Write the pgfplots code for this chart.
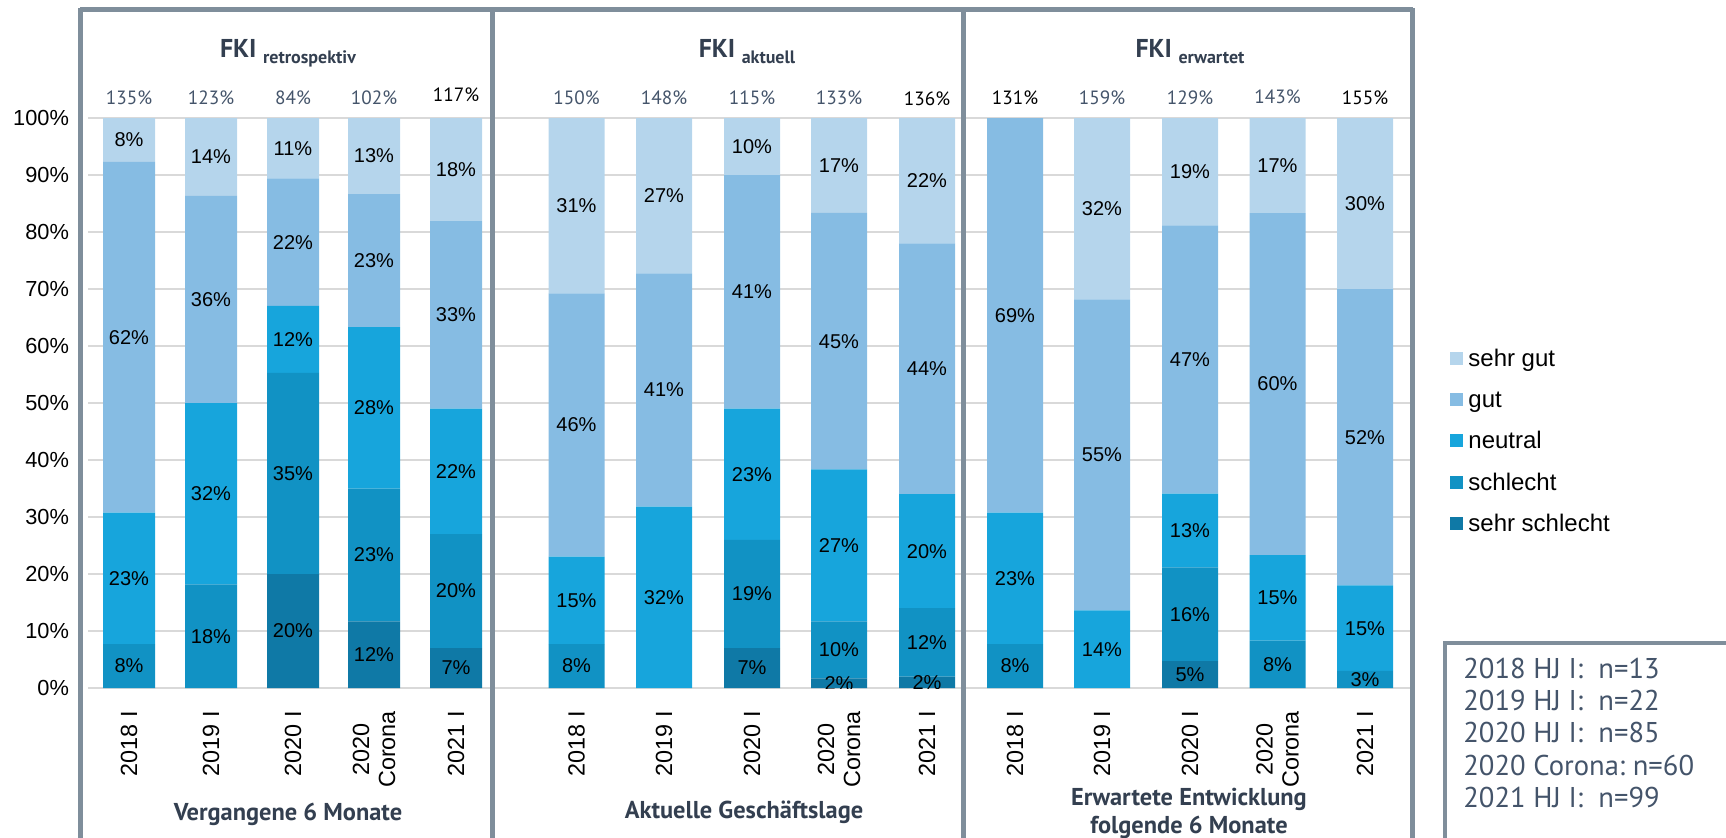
\documentclass[border=0pt]{standalone}
\usepackage{pgfplots}
\pgfplotsset{compat=1.18}
\usepackage{pgfplotstable}
\usepackage{fontspec}
\setmainfont{Liberation Sans}
\newfontfamily\ptsans{PT Sans}
\definecolor{csg}{HTML}{B5D5EC}
\definecolor{cg}{HTML}{86BCE3}
\definecolor{cn}{HTML}{17A5DC}
\definecolor{cs}{HTML}{1192C4}
\definecolor{css}{HTML}{0F79A6}
\definecolor{framec}{HTML}{7F8E9B}
\definecolor{gridc}{HTML}{D9D9D9}
\definecolor{slate}{HTML}{44546A}
\definecolor{dslate}{HTML}{333F50}

\pgfplotstableread{
x ss s n g sg
129 0 7.69 23.08 61.54 7.69
211 0 18.18 31.82 36.36 13.64
293 20.0 35.29 11.76 22.35 10.59
374 11.67 23.33 28.33 23.33 13.33
456 7 20 22 33 18
}\panelA
\pgfplotstableread{
x ss s n g sg
576.5 0 7.69 15.38 46.15 30.77
664 0 0 31.82 40.91 27.27
752 7 19 23 41 10
839 1.67 10 26.67 45 16.67
927 2 12 20 44 22
1015 0 7.69 23.08 69.23 0
1102 0 0 13.64 54.55 31.82
1190 4.71 16.47 12.94 47.06 18.82
1277.5 0 8.33 15 60 16.67
1365 0 3 15 52 30
}\panelBC

\pgfplotsset{
  common/.style={
    at={(44pt,-344pt)}, anchor=south west,
    scale only axis, width=662pt, height=285pt,
    xmin=88, xmax=1412, ymin=0, ymax=100,
  },
}
\newcommand{\lab}[3]{\node[anchor=center, inner sep=0pt, font=\fontsize{10}{12}\selectfont] at (axis cs:#1,#2) {#3\%};}

\begin{document}
\begin{tikzpicture}

% axis A: grid, ticks, panel 1 bars
\begin{axis}[common, ybar stacked,
  bar width=52,
  axis line style={draw=none},
  major tick length=0pt,
  ymajorgrids, major grid style={gridc, line width=0.8pt},
  ytick={0,10,...,100},
  yticklabel={\pgfmathprintnumber{\tick}\%},
  /pgf/number format/assume math mode=true,
  yticklabel style={font=\fontsize{10.9}{13}\selectfont, xshift=-6pt},
  xtick={129,211,293,374,456,576.5,664,752,839,927,1015,1102,1190,1277.5,1365},
  xticklabels={2018 I,2019 I,2020 I,{2020\\Corona},2021 I,2018 I,2019 I,2020 I,{2020\\Corona},2021 I,2018 I,2019 I,2020 I,{2020\\Corona},2021 I},
  xticklabel style={rotate=90, anchor=east, align=center, font=\fontsize{11.7}{13}\selectfont, xshift=-8pt},
]
\addplot[fill=css, draw=none] table[x=x, y=ss] {\panelA};
\addplot[fill=cs, draw=none] table[x=x, y=s] {\panelA};
\addplot[fill=cn, draw=none] table[x=x, y=n] {\panelA};
\addplot[fill=cg, draw=none] table[x=x, y=g] {\panelA};
\addplot[fill=csg, draw=none] table[x=x, y=sg] {\panelA};
\end{axis}

% axis B: panels 2 and 3 bars
\begin{axis}[common, ybar stacked, bar width=56, hide axis]
\addplot[fill=css, draw=none] table[x=x, y=ss] {\panelBC};
\addplot[fill=cs, draw=none] table[x=x, y=s] {\panelBC};
\addplot[fill=cn, draw=none] table[x=x, y=n] {\panelBC};
\addplot[fill=cg, draw=none] table[x=x, y=g] {\panelBC};
\addplot[fill=csg, draw=none] table[x=x, y=sg] {\panelBC};
\end{axis}

% axis C: value labels on top of all bars
\begin{axis}[common, hide axis]
% panel 1
\lab{129}{3.85}{8}\lab{129}{19.25}{23}\lab{129}{61.55}{62}\lab{129}{96.15}{8}
\lab{211}{9.1}{18}\lab{211}{34.1}{32}\lab{211}{68.2}{36}\lab{211}{93.2}{14}
\lab{293}{10}{20}\lab{293}{37.65}{35}\lab{293}{61.2}{12}\lab{293}{78.2}{22}\lab{293}{94.7}{11}
\lab{374}{5.83}{12}\lab{374}{23.33}{23}\lab{374}{49.17}{28}\lab{374}{75}{23}\lab{374}{93.33}{13}
\lab{456}{3.5}{7}\lab{456}{17}{20}\lab{456}{38}{22}\lab{456}{65.5}{33}\lab{456}{91}{18}
% panel 2
\lab{576.5}{3.85}{8}\lab{576.5}{15.38}{15}\lab{576.5}{46.15}{46}\lab{576.5}{84.6}{31}
\lab{664}{15.9}{32}\lab{664}{52.3}{41}\lab{664}{86.4}{27}
\lab{752}{3.5}{7}\lab{752}{16.5}{19}\lab{752}{37.5}{23}\lab{752}{69.5}{41}\lab{752}{95}{10}
\lab{839}{0.83}{2}\lab{839}{6.67}{10}\lab{839}{25}{27}\lab{839}{60.83}{45}\lab{839}{91.67}{17}
\lab{927}{1}{2}\lab{927}{8}{12}\lab{927}{24}{20}\lab{927}{56}{44}\lab{927}{89}{22}
% panel 3
\lab{1015}{3.85}{8}\lab{1015}{19.23}{23}\lab{1015}{65.38}{69}
\lab{1102}{6.82}{14}\lab{1102}{40.9}{55}\lab{1102}{84.1}{32}
\lab{1190}{2.35}{5}\lab{1190}{12.94}{16}\lab{1190}{27.65}{13}\lab{1190}{57.65}{47}\lab{1190}{90.6}{19}
\lab{1277.5}{4.17}{8}\lab{1277.5}{15.83}{15}\lab{1277.5}{53.33}{60}\lab{1277.5}{91.67}{17}
\lab{1365}{1.5}{3}\lab{1365}{10.5}{15}\lab{1365}{44}{52}\lab{1365}{85}{30}
\end{axis}

\begin{scope}[x=0.5pt, y=-0.5pt]
% frames
\draw[framec, line width=2.5pt] (80,9.5) -- (1412.5,9.5);
\foreach \xx in {80,492.5,963,1412.5} {\draw[framec, line width=2.5pt] (\xx,8.25) -- (\xx,845);}
\draw[framec, line width=2pt] (1445,850) -- (1445,643) -- (1740,643);

% titles
\tikzset{ttl/.style={anchor=base, text=dslate, inner sep=0pt, font=\ptsans\bfseries\fontsize{12.9}{15}\selectfont}}
\node[ttl] at (288,57) {FKI\ {\fontsize{9}{11}\selectfont\raisebox{-3pt}{retrospektiv}}};
\node[ttl] at (747,57) {FKI\ {\fontsize{9}{11}\selectfont\raisebox{-3pt}{aktuell}}};
\node[ttl] at (1190,57) {FKI\ {\fontsize{9}{11}\selectfont\raisebox{-3pt}{erwartet}}};

% totals
\tikzset{tot/.style={anchor=base, inner sep=0pt, font=\ptsans\fontsize{9.6}{11}\selectfont, text=slate}}
\node[tot] at (129,104) {135\%};
\node[tot] at (211,104) {123\%};
\node[tot] at (293,104) {84\%};
\node[tot] at (374,104) {102\%};
\node[tot, text=black] at (456,101) {117\%};
\node[tot] at (576.5,104) {150\%};
\node[tot] at (664,104) {148\%};
\node[tot] at (752,104) {115\%};
\node[tot] at (839,104) {133\%};
\node[tot, text=black] at (927,105) {136\%};
\node[tot, text=black] at (1015,104) {131\%};
\node[tot] at (1102,104) {159\%};
\node[tot] at (1190,104) {129\%};
\node[tot] at (1277.5,103) {143\%};
\node[tot, text=black] at (1365,104) {155\%};

% bottom labels
\tikzset{bot/.style={anchor=base, text=dslate, inner sep=0pt, font=\ptsans\bfseries\fontsize{12.2}{14}\selectfont}}
\node[bot] at (288,820) {Vergangene 6 Monate};
\node[bot] at (744,818) {Aktuelle Geschäftslage};
\node[bot] at (1189,805) {Erwartete Entwicklung};
\node[bot] at (1189,833) {folgende 6 Monate};

% legend
\foreach \c/\t/\yy in {csg/sehr gut/358, cg/gut/399, cn/neutral/440, cs/schlecht/482, css/sehr schlecht/523}{
  \fill[\c] (1450,\yy-6.5) rectangle (1463,\yy+6.5);
  \node[anchor=base west, inner sep=0pt, font=\fontsize{12}{14}\selectfont] at (1468,\yy+8.5) {\t};
}

% n box
\tikzset{nb/.style={anchor=base west, inner sep=0pt, text=slate, font=\ptsans\fontsize{14.3}{16}\selectfont}}
\node[nb] at (1463,678) {2018 HJ I:\ \ n=13};
\node[nb] at (1463,710) {2019 HJ I:\ \ n=22};
\node[nb] at (1463,742) {2020 HJ I:\ \ n=85};
\node[nb] at (1463,775) {2020 Corona:\ n=60};
\node[nb] at (1463,807) {2021 HJ I:\ \ n=99};
\end{scope}

\pgfresetboundingbox
\useasboundingbox (0pt,0pt) rectangle (863pt,-418.5pt);
\end{tikzpicture}
\end{document}
